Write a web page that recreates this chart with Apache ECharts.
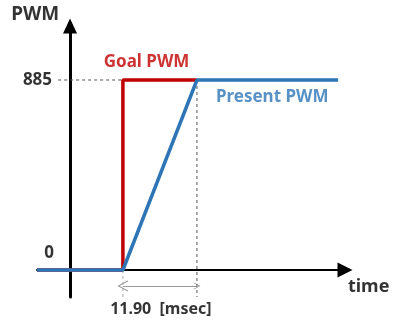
<!DOCTYPE html>
<html><head><meta charset="utf-8">
<script src="https://cdn.jsdelivr.net/npm/echarts@6/dist/echarts.min.js"></script>
<style>html,body{margin:0;padding:0;background:#fff}#c{width:400px;height:333px}</style>
</head><body><div id="c"></div>
<script>
// time in msec (y-axis at t=0), PWM values
var goalTime = [-5.31, 8.5, 8.5, 20.4];
var goalPwm = [0, 0, 885, 885];
var presentTime = [-5.31, 8.5, 20.4, 43.1];
var presentPwm = [0, 0, 885, 885];
var riseStart = 8.5, riseEnd = 20.4; // 11.90 msec
var pwmTicks = [0, 885];
var annTexts = ['PWM', '885', '0', 'Goal PWM', 'Present PWM', 'time', '11.90  [msec]'];
var annTime = [-5.6, -2.89, -2.57, 12.3, 32.5, 48.0, 14.6];
var annPwm = [1188, 885, 79, 967, 806, -78, -186];

var xMin = -5.31, xMax = 44.2, yMin = -125.8, yMax = 1136.5;
var RED = '#c00000', BLUE = '#2e75b6';
var annStyle = [
  {color:'#000', fontSize:19, fontWeight:'bold', align:'center'},
  {color:'#000', fontSize:17, fontWeight:'bold', align:'right'},
  {color:'#000', fontSize:17, fontWeight:'bold', align:'right'},
  {color:RED, fontSize:17, fontWeight:'bold', align:'center'},
  {color:BLUE, fontSize:17, fontWeight:'bold', align:'center'},
  {color:'#000', fontSize:18, fontWeight:'bold', align:'center'},
  {color:'#000', fontSize:16, fontWeight:'bold', align:'center'}
];
function pairs(a, b){ return a.map(function(v,i){ return [v, b[i]]; }); }
var annData = annTexts.map(function(t, i){
  var s = annStyle[i];
  return {value:[annTime[i], annPwm[i]], label:{show:true, position:'inside', formatter:t,
    color:s.color, fontSize:s.fontSize, fontWeight:s.fontWeight, align:s.align, verticalAlign:'middle',
    fontFamily:'Noto Sans'}};
});
var dashStyle = {color:'#555', width:1, type:[3,3]};
var chev = 'path://M0,10 L10,0 L20,10 L18.5,10.8 L10,2.2 L1.5,10.8 Z';
var chart = echarts.init(document.getElementById('c'));
chart.setOption({
  animation:false,
  grid:{left:37, right:55, top:26, bottom:36, outerBoundsMode:'none', containLabel:false},
  xAxis:{type:'value', min:xMin, max:xMax, splitLine:{show:false}, axisTick:{show:false}, axisLabel:{show:false},
    axisLine:{onZero:true, lineStyle:{color:'#000', width:2}, symbol:['none','triangle'], symbolSize:[15,15]}},
  yAxis:{type:'value', min:yMin, max:yMax, splitLine:{show:false}, axisTick:{show:false}, axisLabel:{show:false},
    axisLine:{onZero:true, lineStyle:{color:'#000', width:3}, symbol:['none','triangle'], symbolSize:[14,15]}},
  series:[
    {type:'line', data:[[xMin + 3.4, pwmTicks[1]],[riseStart, pwmTicks[1]]], showSymbol:false, lineStyle:dashStyle, silent:true},
    {type:'line', data:[[riseStart, pwmTicks[0]],[riseStart, yMin]], showSymbol:false, lineStyle:{color:'#aaa', width:1, type:[3,3]}, silent:true},
    {type:'line', data:[[riseEnd, pwmTicks[1]],[riseEnd, yMin]], showSymbol:false, lineStyle:dashStyle, silent:true},
    {type:'lines', coordinateSystem:'cartesian2d', polyline:false,
      data:[{coords:[[riseStart, -74.6],[riseEnd, -74.6]]}],
      symbol:[chev, chev], symbolSize:[11,7], lineStyle:{color:'#999', width:1, opacity:1}, itemStyle:{color:'#999'}, silent:true},
    {type:'line', name:'Goal PWM', data:pairs(goalTime, goalPwm), showSymbol:false, lineStyle:{color:RED, width:3.5}, itemStyle:{color:RED}},
    {type:'line', name:'Present PWM', data:pairs(presentTime, presentPwm), showSymbol:false, lineStyle:{color:BLUE, width:3.5}, itemStyle:{color:BLUE}},
    {type:'scatter', data:annData, symbolSize:1, itemStyle:{color:'rgba(0,0,0,0)'}, clip:false, silent:true}
  ]
});
</script></body></html>
